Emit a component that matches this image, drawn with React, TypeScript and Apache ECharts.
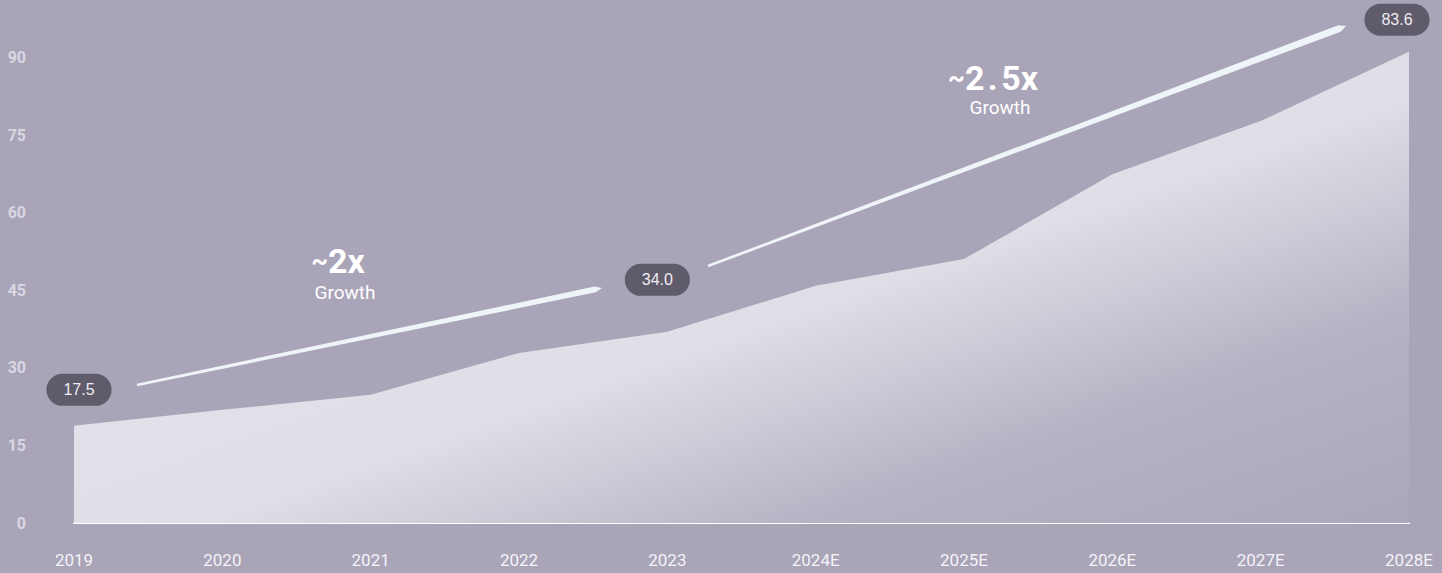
import React, { useEffect, useRef } from "react";
import * as echarts from "echarts";

const categories = ["2019", "2020", "2021", "2022", "2023", "2024E", "2025E", "2026E", "2027E", "2028E"];
const values = [18.8, 21.9, 24.8, 32.9, 37.0, 45.9, 51.1, 67.5, 77.8, 91.2];
const pillLabels: (string | null)[] = ["17.5", null, null, null, "34.0", null, null, null, null, "83.6"];
const pillOffsets: ([number, number] | null)[] = [[5, -36], null, null, null, [-10, -52], null, null, null, null, [-12, -32]];
const yTicks = { min: 0, max: 100, interval: 15 };

const COND = "Roboto, 'Liberation Sans Narrow', sans-serif";
const PLAIN = "'Liberation Sans', Arial, Helvetica, sans-serif";

function arrow(x0: number, y0: number, x1: number, y1: number, w0: number, w1: number) {
  const dx = x1 - x0, dy = y1 - y0;
  const len = Math.hypot(dx, dy);
  const ux = dx / len, uy = dy / len;
  const nx = -uy, ny = ux;
  const qx = x1 - ux * 7, qy = y1 - uy * 7;
  return [
    [x0 + nx * w0 / 2, y0 + ny * w0 / 2],
    [qx + nx * w1 / 2, qy + ny * w1 / 2],
    [x1, y1],
    [qx - nx * w1 / 2, qy - ny * w1 / 2],
    [x0 - nx * w0 / 2, y0 - ny * w0 / 2],
  ];
}

export default function App() {
  const ref = useRef<HTMLDivElement>(null);
  useEffect(() => {
    document.body.style.margin = "0";
    const chart = echarts.init(ref.current!, undefined, { renderer: "svg" });
    const data = values.map((v, i) => {
      const lbl = pillLabels[i];
      if (!lbl) return v;
      return {
        value: v,
        label: {
          show: true,
          position: "inside",
          offset: pillOffsets[i],
          formatter: lbl,
          backgroundColor: "#5f5b6b",
          borderRadius: 16,
          padding: [8, 17, 8, 17],
          color: "#eeedf2",
          fontSize: 16,
          lineHeight: 16,
          fontFamily: PLAIN,
        },
      };
    });
    chart.setOption({
      animation: false,
      backgroundColor: "#a9a4b8",
      grid: { left: 74, right: 33, top: 6.33, bottom: 50 },
      xAxis: {
        type: "category",
        data: categories,
        boundaryGap: false,
        axisLine: { show: true, lineStyle: { color: "#ffffff", width: 2 } },
        axisTick: { show: false },
        axisLabel: { color: "#f4f3f7", fontSize: 17, fontFamily: COND, margin: 28 },
        splitLine: { show: false },
      },
      yAxis: {
        type: "value",
        min: yTicks.min,
        max: yTicks.max,
        interval: yTicks.interval,
        axisLine: { show: false },
        axisTick: { show: false },
        splitLine: { show: false },
        axisLabel: {
          showMaxLabel: false,
          color: "#dad7e2",
          fontSize: 16,
          fontWeight: "bold",
          fontFamily: COND,
          margin: 48,
        },
      },
      series: [
        {
          type: "line",
          data,
          symbol: "circle",
          symbolSize: 1,
          showSymbol: true,
          itemStyle: { color: "transparent", borderWidth: 0 },
          lineStyle: { width: 0, opacity: 0 },
          label: { show: false },
          areaStyle: {
            opacity: 1,
            color: new echarts.graphic.LinearGradient(0, 0, 1, 1, [
              { offset: 0, color: "#ebe9f0" },
              { offset: 0.55, color: "#e0dde6" },
              { offset: 0.78, color: "#b6b1c3" },
              { offset: 1, color: "#aba6ba" },
            ]),
          },
          z: 2,
        },
      ],
      graphic: [
        { type: "polygon", shape: { points: arrow(137, 385, 602, 288, 2.5, 6) }, style: { fill: "#eef4f8" }, z: 10 },
        { type: "polygon", shape: { points: arrow(708, 266, 1346, 26, 2.5, 7) }, style: { fill: "#eef4f8" }, z: 10 },
        {
          type: "text", x: 338, y: 261, z: 10,
          style: {
            text: "{t|~}{n|2x}", align: "center", verticalAlign: "middle",
            rich: {
              t: { fontSize: 26, fontWeight: "bold", fill: "#ffffff", fontFamily: COND },
              n: { fontSize: 34, fontWeight: "bold", fill: "#ffffff", fontFamily: COND },
            },
          },
        },
        { type: "text", x: 345, y: 292, z: 10, style: { text: "Growth", align: "center", verticalAlign: "middle", fontSize: 19, fill: "#ffffff", fontFamily: COND } },
        {
          type: "text", x: 993, y: 78, z: 10,
          style: {
            text: "{t|~}{n|2\u200A.\u200A5x}", align: "center", verticalAlign: "middle",
            rich: {
              t: { fontSize: 26, fontWeight: "bold", fill: "#ffffff", fontFamily: COND },
              n: { fontSize: 34, fontWeight: "bold", fill: "#ffffff", fontFamily: COND },
            },
          },
        },
        { type: "text", x: 1000, y: 107, z: 10, style: { text: "Growth", align: "center", verticalAlign: "middle", fontSize: 19, fill: "#ffffff", fontFamily: COND } },
      ],
    });
    return () => chart.dispose();
  }, []);
  return <div ref={ref} style={{ width: 1442, height: 573 }} />;
}
